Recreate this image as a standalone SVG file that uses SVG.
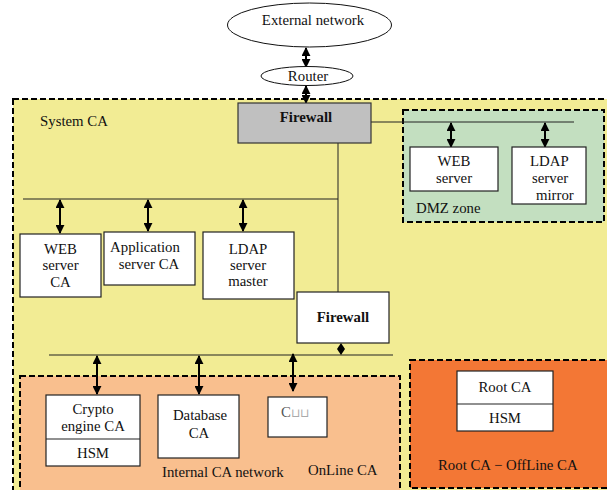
<svg xmlns="http://www.w3.org/2000/svg" width="607" height="490" viewBox="0 0 607 490">
  <style>
    text { font-family: "Liberation Serif", "Times New Roman", serif; font-size: 14.8px; fill: #111; }
    .mid { text-anchor: middle; }
    .bold { font-weight: bold; }
    .zone { stroke: #000; stroke-width: 2; stroke-dasharray: 6 3; }
    .box { fill: #fff; stroke: #222; stroke-width: 1.2; }
    .wire { stroke: #222; stroke-width: 1; fill: none; }
    .link { stroke: #000; stroke-width: 2; fill: none; marker-start: url(#tip); marker-end: url(#tip); }
  </style>
  <defs>
    <marker id="tip" viewBox="0 0 10 10" refX="9" refY="5" markerWidth="4.5" markerHeight="4.5" orient="auto-start-reverse" markerUnits="strokeWidth">
      <path d="M0,0 L10,5 L0,10 z" fill="#000"/>
    </marker>
  </defs>

  <rect width="607" height="490" fill="#fff"/>

  <!-- zones -->
  <g id="system-ca">
    <rect class="zone" x="13" y="99" width="610" height="410" fill="#f2ec94"/>
    <text x="40" y="126">System CA</text>
  </g>
  <g id="dmz-zone">
    <rect class="zone" x="403" y="110" width="201" height="112" fill="#c3dfc0"/>
    <text x="416" y="213">DMZ zone</text>
  </g>
  <g id="internal-ca-network">
    <rect class="zone" x="20" y="376" width="380" height="130" fill="#f9bf8e"/>
    <text x="162" y="477">Internal CA network</text>
    <text x="308" y="475">OnLine CA</text>
  </g>
  <g id="offline-ca">
    <rect class="zone" x="410" y="360" width="210" height="128" fill="#f37735"/>
    <text x="438" y="470">Root CA − OffLine CA</text>
  </g>

  <!-- connectors -->
  <g id="connectors">
    <line class="wire" x1="371" y1="122" x2="574" y2="122"/>
    <line class="wire" x1="338" y1="143" x2="338" y2="292"/>
    <line class="wire" x1="23" y1="199" x2="338" y2="199"/>
    <line class="wire" x1="49" y1="355" x2="393" y2="355"/>
    <line class="link" x1="306" y1="48" x2="306" y2="67"/>
    <line class="link" x1="306" y1="86" x2="306" y2="103"/>
    <line class="link" x1="451" y1="123" x2="451" y2="147"/>
    <line class="link" x1="545" y1="123" x2="545" y2="147"/>
    <line class="link" x1="60" y1="200" x2="60" y2="233"/>
    <line class="link" x1="148" y1="200" x2="148" y2="231"/>
    <line class="link" x1="243" y1="200" x2="243" y2="231"/>
    <path d="M341,343 L345,349 L341,355 L337,349 z" fill="#000"/>
    <line class="link" x1="97" y1="356" x2="97" y2="394"/>
    <line class="link" x1="199" y1="356" x2="199" y2="394"/>
    <line class="link" x1="293" y1="354" x2="293" y2="391"/>
  </g>

  <!-- nodes -->
  <g id="external-network">
    <ellipse cx="309.5" cy="25" rx="82" ry="22" fill="#fff" stroke="#111" stroke-width="1"/>
    <text class="mid" x="313" y="25">External network</text>
  </g>
  <g id="router">
    <ellipse cx="307" cy="76" rx="46" ry="9.5" fill="#fff" stroke="#111" stroke-width="1"/>
    <text class="mid" x="308" y="81">Router</text>
  </g>
  <g id="firewall-outer">
    <rect x="238" y="103" width="133" height="40" fill="#c0c0c0" stroke="#333" stroke-width="1.2"/>
    <text class="mid bold" x="306" y="122">Firewall</text>
  </g>
  <g id="dmz-web-server">
    <rect class="box" x="410" y="147" width="88" height="44"/>
    <text class="mid" x="454" y="166">WEB</text>
    <text class="mid" x="454" y="183">server</text>
  </g>
  <g id="ldap-server-mirror">
    <rect class="box" x="512" y="147" width="74" height="57"/>
    <text x="530" y="166">LDAP</text>
    <text x="532" y="183">server</text>
    <text x="536" y="200">mirror</text>
  </g>
  <g id="web-server-ca">
    <rect class="box" x="20" y="234" width="81" height="63"/>
    <text class="mid" x="60.5" y="254">WEB</text>
    <text class="mid" x="60.5" y="270">server</text>
    <text class="mid" x="60.5" y="287">CA</text>
  </g>
  <g id="application-server-ca">
    <rect class="box" x="104" y="232" width="91" height="53"/>
    <text class="mid" x="145" y="252">Application</text>
    <text class="mid" x="149" y="269">server CA</text>
  </g>
  <g id="ldap-server-master">
    <rect class="box" x="203" y="232" width="91" height="67"/>
    <text class="mid" x="248" y="254">LDAP</text>
    <text class="mid" x="248" y="270">server</text>
    <text class="mid" x="248" y="286">master</text>
  </g>
  <g id="firewall-inner">
    <rect class="box" x="297" y="292" width="92" height="51"/>
    <text class="mid bold" x="343" y="322">Firewall</text>
  </g>
  <g id="crypto-engine-ca">
    <rect class="box" x="46" y="395" width="94" height="71"/>
    <line x1="46" y1="439" x2="140" y2="439" stroke="#222" stroke-width="1.2"/>
    <text class="mid" x="93" y="414">Crypto</text>
    <text class="mid" x="93" y="431">engine CA</text>
    <text class="mid" x="93" y="458">HSM</text>
  </g>
  <g id="database-ca">
    <rect class="box" x="158" y="395" width="81" height="63"/>
    <text class="mid" x="200" y="420">Database</text>
    <text class="mid" x="199" y="438">CA</text>
  </g>
  <g id="c-box">
    <rect class="box" x="268" y="397" width="59" height="40"/>
    <text x="281" y="417" style="fill:#555">C<tspan style="fill:#aaa;font-size:12px">⊔⊔</tspan></text>
  </g>
  <g id="root-ca">
    <rect class="box" x="457" y="371" width="96" height="60"/>
    <line x1="457" y1="404" x2="553" y2="404" stroke="#222" stroke-width="1.2"/>
    <text class="mid" x="505" y="392">Root CA</text>
    <text class="mid" x="505" y="423">HSM</text>
  </g>
</svg>
